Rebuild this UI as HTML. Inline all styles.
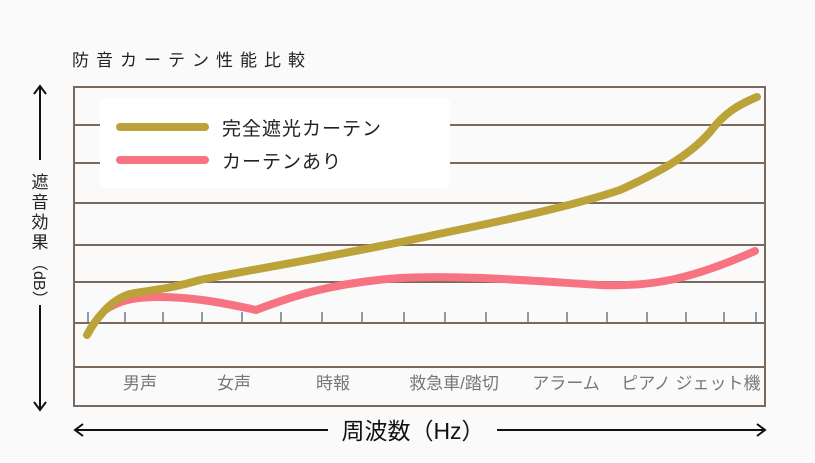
<!DOCTYPE html>
<html><head><meta charset="utf-8"><style>
body{margin:0;background:#fafafa;}
svg{display:block;font-family:"Liberation Sans","Noto Sans CJK JP",sans-serif;}
</style></head><body>
<svg width="815" height="463" viewBox="0 0 815 463">
<rect width="815" height="463" fill="#fafafa"/>
<text x="72" y="66" font-size="17" fill="#222" letter-spacing="7">防音カーテン性能比較</text>
<g stroke="#7a6a5e" stroke-width="2" fill="none">
<rect x="74" y="87" width="691" height="319"/>
<line x1="74" y1="125" x2="765" y2="125"/>
<line x1="74" y1="163" x2="765" y2="163"/>
<line x1="74" y1="203" x2="765" y2="203"/>
<line x1="74" y1="245" x2="765" y2="245"/>
<line x1="74" y1="282" x2="765" y2="282"/>
<line x1="74" y1="323" x2="765" y2="323"/>
<line x1="74" y1="367" x2="765" y2="367"/>
</g>
<g stroke="#6a7a90" stroke-width="1.5">
<path d="M88 312V322M125 312V322M163 312V322M202 312V322M242 312V322M281 312V322M322 312V322M362 312V322M404 312V322M445 312V322M486 312V322M528 312V322M567 312V322M607 312V322M647 312V322M686 312V322M724 312V322M756 312V322"/>
</g>
<rect x="100" y="98" width="350" height="90" rx="6" fill="#fff"/>
<line x1="120" y1="127" x2="205" y2="127" stroke="#bba33a" stroke-width="8" stroke-linecap="round"/>
<line x1="120" y1="160" x2="205" y2="160" stroke="#f77382" stroke-width="8" stroke-linecap="round"/>
<text x="222" y="135" font-size="19" fill="#222" letter-spacing="1">完全遮光カーテン</text>
<text x="222" y="168" font-size="19" fill="#222" letter-spacing="1">カーテンあり</text>
<path d="M105 310 C120 300,135 297,160 297 C190 297,220 302,256 310 C290 297,330 283,400 278 C460 275,520 280,600 285 C650 287,690 280,755 251" fill="none" stroke="#f77382" stroke-width="8" stroke-linecap="round"/>
<path d="M87 335 C95 320,110 300,130 294 C150 290,165 290,200 280 C260 268,330 257,420 238 C480 225,560 210,620 190 C660 172,690 155,710 132 C725 112,740 104,757 97" fill="none" stroke="#bba33a" stroke-width="8" stroke-linecap="round"/>
<g font-size="17" fill="#777" text-anchor="middle">
<text x="140" y="389">男声</text>
<text x="234" y="389">女声</text>
<text x="333" y="389">時報</text>
<text x="454" y="389">救急車/踏切</text>
<text x="566" y="389">アラーム</text>
<text x="646" y="389">ピアノ</text>
<text x="718" y="389">ジェット機</text>
</g>
<g stroke="#111" stroke-width="2" fill="none">
<line x1="40" y1="86" x2="40" y2="160"/>
<line x1="40" y1="305" x2="40" y2="410"/>
<path d="M34 94 L40 86 L46 94 M34 402 L40 410 L46 402"/>
<line x1="75" y1="430" x2="328" y2="430"/>
<line x1="497" y1="430" x2="765" y2="430"/>
<path d="M83 424 L75 430 L83 436 M757 424 L765 430 L757 436"/>
</g>
<text x="413" y="439" font-size="23" fill="#111" text-anchor="middle">周波数（Hz）</text>
<g font-size="17" fill="#222" text-anchor="middle">
<text x="40" y="188">遮</text>
<text x="40" y="208">音</text>
<text x="40" y="228">効</text>
<text x="40" y="248">果</text>
<text transform="translate(34,255) rotate(90)" font-size="16" text-anchor="start">（dB）</text>
</g>
</svg>
</body></html>
